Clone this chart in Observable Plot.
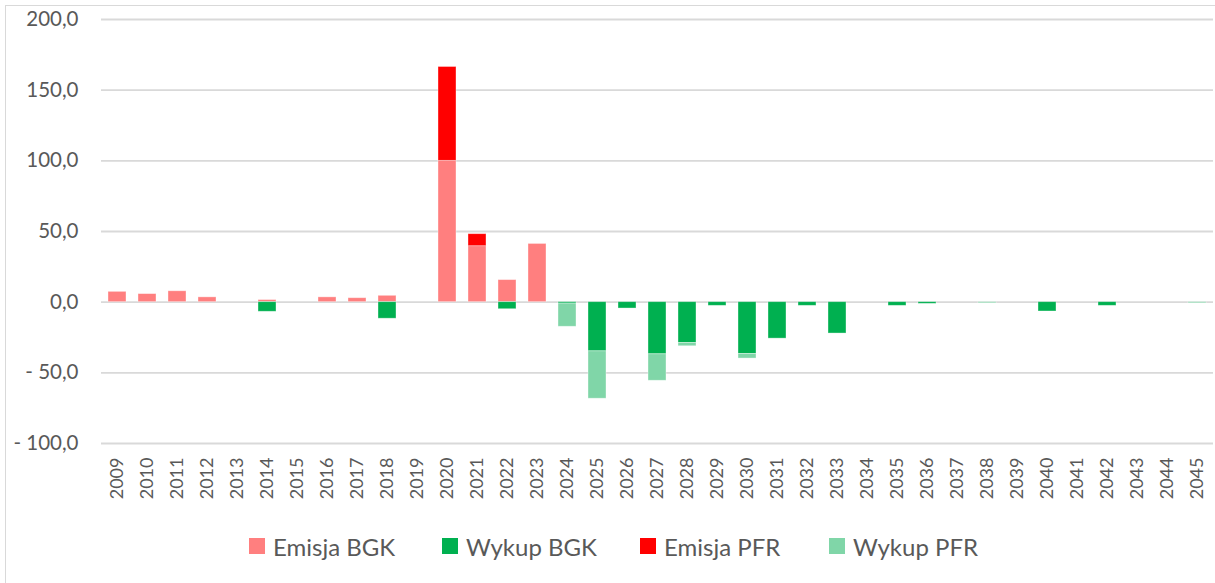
<!DOCTYPE html>
<html>
<head>
<meta charset="utf-8">
<script src="https://cdn.jsdelivr.net/npm/d3@7"></script>
<script src="https://cdn.jsdelivr.net/npm/@observablehq/plot@0.6"></script>
<style>
  html, body { margin: 0; padding: 0; background: #fff; }
  body { width: 1215px; height: 583px; position: relative; overflow: hidden; font-family: Lato, "Noto Sans", sans-serif; }
  #frame { position: absolute; left: 5px; top: 5px; right: -2px; bottom: -2px; border-left: 1.5px solid #d9d9d9; border-top: 1.5px solid #d9d9d9; }
  #chart { position: absolute; left: 0; top: 0; }
  .lg { position: absolute; top: 530px; height: 32px; display: flex; align-items: center; font-size: 24px; color: #595959; white-space: nowrap; }
  .lg span.sw { display: inline-block; width: 16px; height: 16px; margin-right: 8px; }
</style>
</head>
<body>
<div id="frame"></div>
<div id="chart"></div>
<div id="legend"></div>
<script>
const years = ["2009","2010","2011","2012","2013","2014","2015","2016","2017","2018","2019","2020","2021","2022","2023","2024","2025","2026","2027","2028","2029","2030","2031","2032","2033","2034","2035","2036","2037","2038","2039","2040","2041","2042","2043","2044","2045"];
const seriesNames = ["Emisja BGK", "Wykup BGK", "Emisja PFR", "Wykup PFR"];
const seriesColors = ["#ff7f7f", "#00b050", "#ff0000", "#80d6a8"];
//                 2009 2010 2011 2012 2013 2014 2015 2016 2017 2018 2019 2020  2021  2022  2023 2024  2025 2026  2027  2028 2029  2030  2031 2032  2033 2034 2035 2036 2037 2038 2039 2040 2041 2042 2043 2044 2045
const emisjaBGK = [7.3, 5.7, 7.7, 3.4, 0,   1.5, 0,   3.4, 2.8, 4.5, 0,   100,  39.6, 15.6, 41.2, 0,   0,    0,    0,    0,    0,   0,    0,    0,   0,    0,   0,   0,   0,   0,   0,   0,   0,   0,   0,   0,   0];
const wykupBGK  = [0,   0,   0,   0,   0,  -6.8, 0,   0,   0, -11.7, 0,   0,    0,   -5.0,  0,  -1.0, -34.8, -4.5, -36.9, -28.9, -2.6, -36.6, -25.8, -2.6, -22.2, 0, -2.6, -1.2, 0,   0,   0,  -6.6, 0,  -2.6, 0,   0,   0];
const emisjaPFR = [0,   0,   0,   0,   0,   0,   0,   0,   0,   0,   0,   66.4, 8.5,  0,    0,   0,    0,    0,    0,    0,    0,   0,    0,    0,   0,    0,   0,   0,   0,   0,   0,   0,   0,   0,   0,   0,   0];
const wykupPFR  = [0,   0,   0,   0,   0,   0,   0,   0,   0,   0,   0,   0,    0,    0,    0, -16.4, -33.5, 0,  -18.7, -2.3,  0,  -3.3,   0,    0,   0,    0,   0,   0,   0,  -0.8, 0,   0,   0,   0,   0,   0,  -0.8];
const yTicks = [-100, -50, 0, 50, 100, 150, 200];

const seriesValues = [emisjaBGK, wykupBGK, emisjaPFR, wykupPFR];
const data = [];
seriesNames.forEach((s, si) => {
  seriesValues[si].forEach((v, i) => { if (v !== 0) data.push({year: years[i], series: s, value: v}); });
});

const fmt = d => {
  const s = Math.abs(d).toFixed(1).replace(".", ",");
  return d < 0 ? "- " + s : s;
};

const chart = Plot.plot({
  width: 1215,
  height: 520,
  marginLeft: 101,
  marginRight: 2,
  marginTop: 19,
  marginBottom: 77,
  style: { fontFamily: "Lato, 'Noto Sans', sans-serif", color: "#595959", background: "transparent" },
  x: { domain: years, paddingInner: 0.39, paddingOuter: 0.195, label: null },
  y: { domain: [-100, 200], ticks: yTicks, label: null },
  color: { domain: seriesNames, range: seriesColors },
  marks: [
    Plot.gridY(yTicks, { stroke: "#d9d9d9", strokeOpacity: 1, strokeWidth: 1.8 }),
    Plot.barY(data, {
      x: "year", y: "value", fill: "series", order: seriesNames,
      stroke: "white", strokeOpacity: 0.45, strokeWidth: 0.8
    }),
    Plot.axisY({ ticks: yTicks, tickSize: 0, tickPadding: 23, tickFormat: fmt, fontSize: 20.5, fill: "#595959", label: null }),
    Plot.axisX({ tickSize: 0, tickPadding: 14, tickRotate: -90, fontSize: 18, fill: "#595959", label: null })
  ]
});
document.getElementById("chart").appendChild(chart);

const legend = document.getElementById("legend");
const legendLeft = [249, 442, 640, 829];
seriesNames.forEach((s, i) => {
  const item = document.createElement("div");
  item.className = "lg";
  item.style.left = legendLeft[i] + "px";
  item.innerHTML = `<span class="sw" style="background:${seriesColors[i]}"></span>${s}`;
  legend.appendChild(item);
});
</script>
</body>
</html>
